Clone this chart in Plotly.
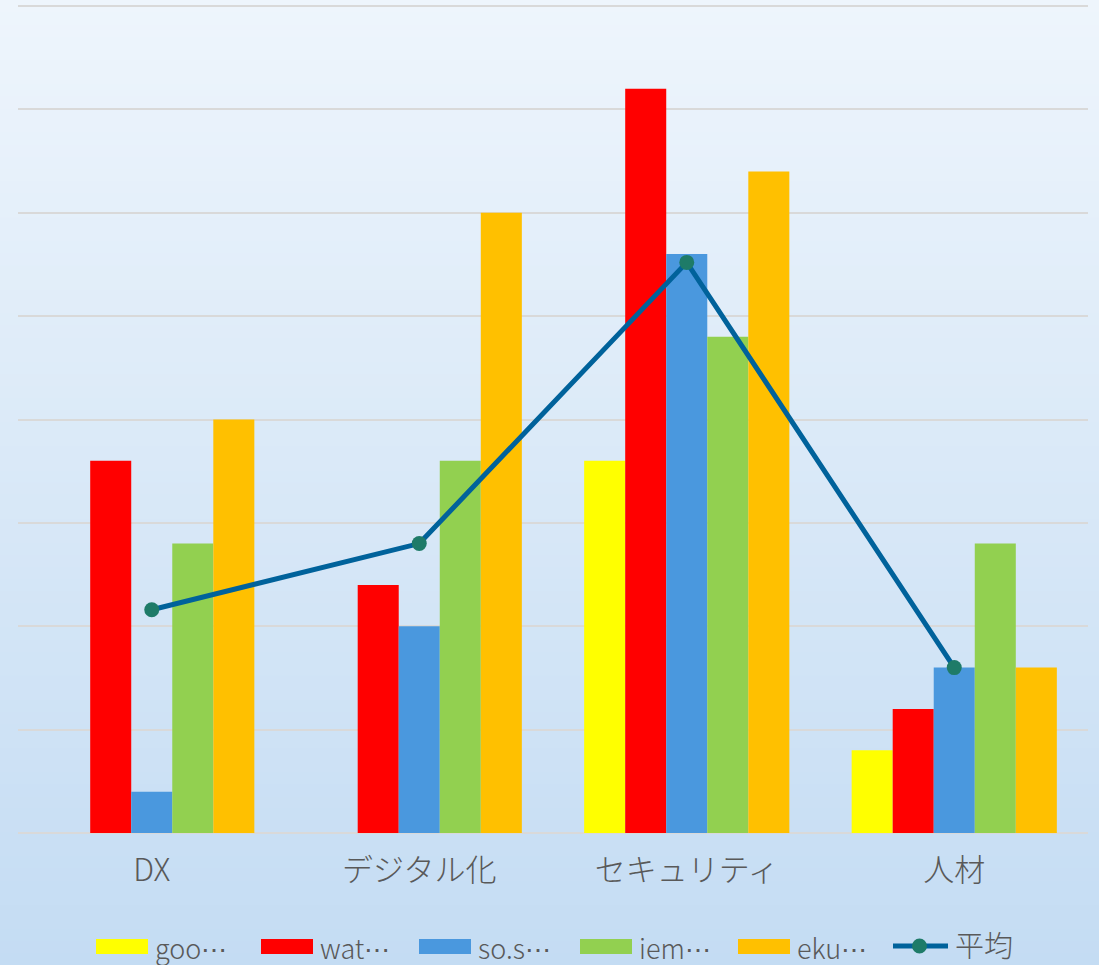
import plotly.graph_objects as go

categories = ["DX", "デジタル化", "セキュリティ", "人材"]
series_names = ["goo⋯", "wat⋯", "so.s⋯", "iem⋯", "eku⋯"]
goo = [0, 0, 18, 4]
wat = [18, 12, 36, 6]
sos = [2, 10, 28, 8]
iem = [14, 18, 24, 14]
eku = [20, 30, 32, 8]
avg_name = "平均"
avg = [10.8, 14, 27.6, 8]

colors = ["#FFFF00", "#FF0000", "#4A98DE", "#92D050", "#FFC000"]
line_color = "#00629B"
marker_color = "#1E7B68"

W, H = 1099, 965
ml, mr, mt, mb = 18, 11, 5, 132
pw, ph = W - ml - mr, H - mt - mb
FONT = "Noto Sans CJK JP"

def px_x(px):
    return (px - ml) / pw

def px_y(py):
    return (H - mb - py) / ph

def legend_label(name):
    # render the truncation mark as a centred ellipsis
    return name.replace("⋯", '<span style="font-family:DejaVu Sans;font-size:26px">⋯</span>')

fig = go.Figure()
for name, vals, c in zip(series_names, [goo, wat, sos, iem, eku], colors):
    fig.add_trace(go.Bar(x=categories, y=vals, name=name, marker_color=c,
                         marker_line=dict(width=0), showlegend=False))
fig.add_trace(go.Scatter(x=categories, y=avg, name=avg_name, mode="lines+markers",
                         line=dict(color=line_color, width=5),
                         marker=dict(color=marker_color, size=15),
                         showlegend=False))

shapes = []
# gradient background
top = (0xEE, 0xF5, 0xFC)
bot = (0xC4, 0xDC, 0xF3)
n = 80
for i in range(n):
    t = i / (n - 1)
    col = tuple(round(top[k] + (bot[k] - top[k]) * t) for k in range(3))
    y0 = i * H / n
    y1 = (i + 1) * H / n + 1
    shapes.append(dict(type="rect", xref="paper", yref="paper", layer="below",
                       x0=px_x(0), x1=px_x(W), y0=px_y(y1), y1=px_y(y0),
                       line=dict(width=0), fillcolor="rgb(%d,%d,%d)" % col))

# manual legend
legend_items = [
    (96, 148, 153),
    (261, 313, 318),
    (419, 471, 476),
    (580, 632, 637),
    (738, 790, 795),
]
annotations = []
for (x0, x1, tx), name, c in zip(legend_items, series_names, colors):
    shapes.append(dict(type="rect", xref="paper", yref="paper",
                       x0=px_x(x0), x1=px_x(x1), y0=px_y(954), y1=px_y(939),
                       line=dict(width=0), fillcolor=c))
    annotations.append(dict(text=legend_label(name), xref="paper", yref="paper", x=px_x(tx), y=px_y(947),
                            xanchor="left", yanchor="middle", showarrow=False,
                            font=dict(size=27, color="#595959", family=FONT, weight=300)))
shapes.append(dict(type="line", xref="paper", yref="paper", x0=px_x(893), x1=px_x(948),
                   y0=px_y(946), y1=px_y(946), line=dict(color=line_color, width=5)))
shapes.append(dict(type="circle", xref="paper", yref="paper", x0=px_x(912), x1=px_x(927),
                   y0=px_y(953.5), y1=px_y(938.5), line=dict(width=0), fillcolor=marker_color))
annotations.append(dict(text=avg_name, xref="paper", yref="paper", x=px_x(953), y=px_y(944),
                        xanchor="left", yanchor="middle", showarrow=False,
                        font=dict(size=29, color="#595959", family=FONT, weight=300)))

fig.update_layout(
    width=W, height=H,
    margin=dict(l=ml, r=mr, t=mt, b=mb),
    paper_bgcolor="#D9E8F7",
    plot_bgcolor="rgba(0,0,0,0)",
    barmode="group", bargap=0.233, bargroupgap=0,
    shapes=shapes, annotations=annotations,
    font=dict(family=FONT, color="#595959"),
    xaxis=dict(showgrid=False, showline=False, zeroline=False, ticks="",
               tickfont=dict(size=31, color="#595959", family=FONT, weight=300),
               ticklabelstandoff=16),
    yaxis=dict(range=[0, 40.05], tickvals=[5, 10, 15, 20, 25, 30, 35, 40],
               showticklabels=False, gridcolor="#D9D9D9",
               gridwidth=2, zeroline=True, zerolinecolor="#D9D9D9", zerolinewidth=2,
               showline=False),
)
fig.write_html("out.html", config={"displayModeBar": False},
               post_script="document.body.style.margin='0';document.body.style.overflow='hidden';")
